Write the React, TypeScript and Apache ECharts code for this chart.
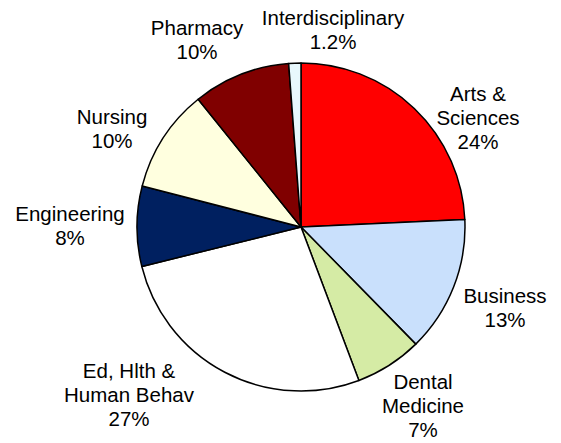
import React, { useEffect, useRef } from "react";
import * as echarts from "echarts";

const categories = [
  "Arts &\nSciences",
  "Business",
  "Dental\nMedicine",
  "Ed, Hlth &\nHuman Behav",
  "Engineering",
  "Nursing",
  "Pharmacy",
  "Interdisciplinary",
];
const shares = [24.3, 13.4, 6.6, 26.9, 7.9, 10.2, 9.6, 1.2];
const shareLabels = ["24%", "13%", "7%", "27%", "8%", "10%", "10%", "1.2%"];
const colors = ["#FF0000", "#C9E0FC", "#D5EBA5", "#FFFFFF", "#002060", "#FFFFDF", "#800000", "#E8F8FD"];

// label anchor positions (layout only)
const labelPos: [number, number][] = [
  [478, 117],
  [505, 307],
  [423, 405],
  [129, 394],
  [70, 225],
  [112, 128],
  [197, 39],
  [333, 29],
];

export default function App() {
  const ref = useRef<HTMLDivElement>(null);
  useEffect(() => {
    document.body.style.margin = "0";
    if (!ref.current) return;
    const chart = echarts.init(ref.current, undefined, { renderer: "svg" });
    chart.setOption({
      animation: false,
      backgroundColor: "#FFFFFF",
      series: [
        {
          type: "pie",
          center: [301, 227],
          radius: [0, 164],
          startAngle: 90,
          clockwise: true,
          silent: true,
          emphasis: { disabled: true },
          itemStyle: { borderColor: "#000000", borderWidth: 1.5 },
          label: {
            show: true,
            position: "outside",
            color: "#000000",
            fontFamily: "'Liberation Sans', Arial, sans-serif",
            fontSize: 20.5,
            lineHeight: 24,
            align: "center",
            overflow: "none",
            formatter: (p: any) => `${p.name}\n${shareLabels[p.dataIndex]}`,
          },
          labelLine: { show: false },
          labelLayout: (p: any) => ({
            x: labelPos[p.dataIndex][0],
            y: labelPos[p.dataIndex][1],
            align: "center",
            verticalAlign: "middle",
            hideOverlap: false,
          }),
          data: categories.map((name, i) => ({
            name,
            value: shares[i],
            itemStyle: { color: colors[i] },
          })),
        },
      ],
    });
    return () => chart.dispose();
  }, []);
  return <div ref={ref} style={{ width: 561, height: 443 }} />;
}
